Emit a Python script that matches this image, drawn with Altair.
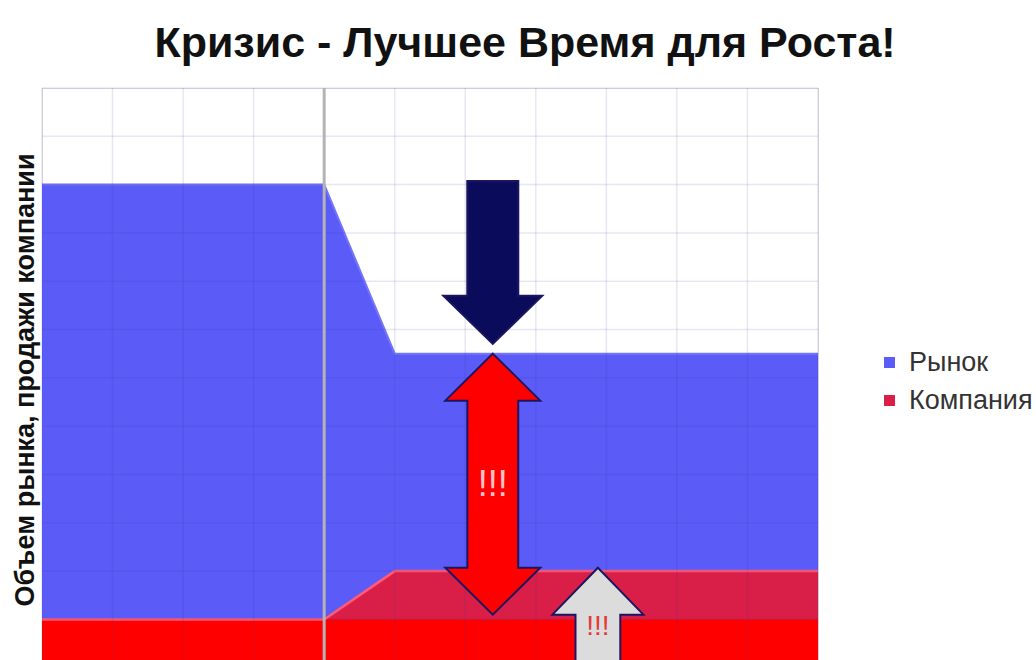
import altair as alt
import pandas as pd

# ---- data ----
x_pts = [0, 1, 2, 3, 4, 5, 6, 7, 8, 9, 10, 11]
market = [10, 10, 10, 10, 10, 6.5, 6.5, 6.5, 6.5, 6.5, 6.5, 6.5]
company = [1, 1, 1, 1, 1, 2, 2, 2, 2, 2, 2, 2]
company_base = [1, 1, 1, 1, 1, 1, 1, 1, 1, 1, 1, 1]
series_names = ["Рынок", "Компания"]
series_colors = ["#5b5bf8", "#d91e48"]

grid_x = [0, 1, 2, 3, 4, 5, 6, 7, 8, 9, 10, 11]
grid_y = [1, 2, 3, 4, 5, 6, 7, 8, 9, 10, 11, 12]
crisis_x = [4]

arrow_x = [6.39, 6.39, 7.88]
arrow_y = [8.39, 3.80, 0.62]
label_x = [6.39, 7.88]
label_y = [3.79, 0.85]
label_text = ["!!!", "!!!"]

TITLE = "Кризис - Лучшее Время для Роста!"
YTITLE = "Объем рынка, продажи компании"
FONT = "Liberation Sans"

df_market = pd.DataFrame({"x": x_pts, "v": market, "series": series_names[0]})
df_company = pd.DataFrame({"x": x_pts, "v": company, "series": series_names[1]})
df_base = pd.DataFrame({"x": x_pts, "v": company_base})
df_gx = pd.DataFrame({"x": grid_x})
df_gy = pd.DataFrame({"v": grid_y})
df_crisis = pd.DataFrame({"x": crisis_x})
df_ytitle = pd.DataFrame({"t": [YTITLE]})

xs = alt.Scale(domain=[0, 11], nice=False, zero=False)
ys = alt.Scale(domain=[0.16, 12], nice=False, zero=False)
X = alt.X("x:Q", scale=xs, axis=None)
Y = alt.Y("v:Q", scale=ys, stack=None, axis=None)

color = alt.Color(
    "series:N",
    scale=alt.Scale(domain=series_names, range=series_colors),
    legend=alt.Legend(title=None, orient="none", legendX=834, legendY=261,
                      symbolType="square", symbolSize=120, symbolStrokeWidth=0,
                      symbolOpacity=1, labelFont=FONT, labelFontSize=27,
                      labelColor="#333333", rowPadding=10, labelOffset=6))

market_area = alt.Chart(df_market).mark_area(clip=True, opacity=1).encode(
    x=X, y=Y, y2=alt.datum(0), color=color)
company_area = alt.Chart(df_company).mark_area(clip=True, opacity=1).encode(
    x=X, y=Y, y2=alt.datum(0), color=color)
base_area = alt.Chart(df_base).mark_area(clip=True, color="#ff0000", opacity=1).encode(
    x=X, y=Y, y2=alt.datum(0))
company_edge = alt.Chart(df_company).mark_line(clip=True, color="#ff5a78", strokeWidth=2.5).encode(
    x=X, y=Y)
market_edge = alt.Chart(df_market).mark_line(clip=True, color="#7474fa", strokeWidth=2).encode(
    x=X, y=Y)

grid_v = alt.Chart(df_gx).mark_rule(color="#3c3ca0", opacity=0.12, strokeWidth=1.5).encode(x=X)
grid_h = alt.Chart(df_gy).mark_rule(color="#3c3ca0", opacity=0.12, strokeWidth=1.5).encode(y=Y)
crisis_rule = alt.Chart(df_crisis).mark_rule(color="#b4b4b4", strokeWidth=3).encode(x=X)

down_path = "M-0.313,-1L0.313,-1L0.313,0.41L0.607,0.41L0,1L-0.607,0.41L-0.313,0.41Z"
gap_path = ("M0,-1L0.364,-0.64L0.195,-0.64L0.195,0.64L0.364,0.64L0,1L-0.364,0.64"
            "L-0.195,0.64L-0.195,-0.64L-0.364,-0.64Z")
up_path = "M0,-1L0.65,-0.33L0.32,-0.33L0.32,1L-0.32,1L-0.32,-0.33L-0.65,-0.33Z"


def arrow(i, path, size, fill):
    d = pd.DataFrame({"x": [arrow_x[i]], "v": [arrow_y[i]]})
    return alt.Chart(d).mark_point(
        shape=path, size=size, filled=True, fill=fill, stroke="#1c1660",
        strokeWidth=2, opacity=1, fillOpacity=1, strokeOpacity=1, clip=True
    ).encode(x=X, y=Y)


arr_down = arrow(0, down_path, 26569, "#0b0b5c")
arr_gap = arrow(1, gap_path, 68121, "#ff0000")
arr_up = arrow(2, up_path, 19600, "#dcdcdc")

df_l1 = pd.DataFrame({"x": [label_x[0]], "v": [label_y[0]], "t": [label_text[0]]})
df_l2 = pd.DataFrame({"x": [label_x[1]], "v": [label_y[1]], "t": [label_text[1]]})
txt1 = alt.Chart(df_l1).mark_text(font=FONT, fontSize=36, color="#ffc4c4", baseline="middle",
                                  align="center").encode(x=X, y=Y, text="t:N")
txt2 = alt.Chart(df_l2).mark_text(font=FONT, fontSize=28, color="#e23a3a", baseline="middle",
                                  align="center").encode(x=X, y=Y, text="t:N")

ytitle = alt.Chart(df_ytitle).mark_text(
    font=FONT, fontSize=27, fontWeight="bold", color="#111111", angle=270,
    align="center", baseline="alphabetic"
).encode(x=alt.value(-8), y=alt.value(292), text="t:N")

chart = alt.layer(
    market_area, company_area, base_area, market_edge, company_edge,
    grid_v, grid_h, crisis_rule, arr_down, arr_gap, arr_up, txt1, txt2, ytitle
).properties(
    width=776, height=572,
    title=alt.TitleParams(text=TITLE, font=FONT, fontSize=43, fontWeight="bold",
                          color="#111111", anchor="middle", dx=95, dy=43,
                          baseline="alphabetic", offset=30),
    autosize=alt.AutoSizeParams(type="none"),
    padding={"left": 42, "top": 88, "right": 218, "bottom": 0},
).configure_view(strokeWidth=0).configure(background="white")

chart.save("out.html", embed_options={"renderer": "svg", "actions": False})
